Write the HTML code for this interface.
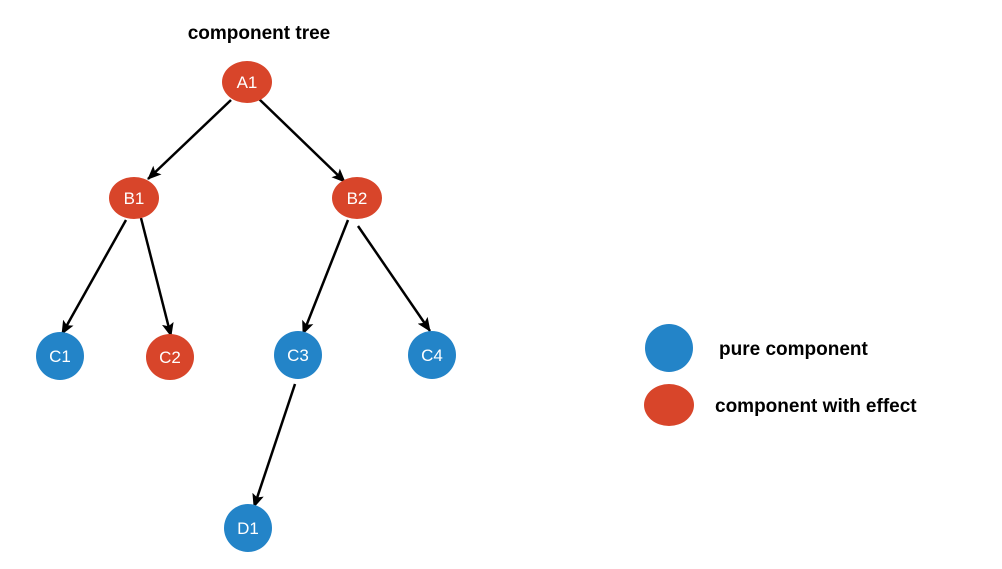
<!DOCTYPE html>
<html><head><style>
body{margin:0;background:#fff;}
svg text{font-family:"Liberation Sans",sans-serif;}
</style></head><body>
<svg width="1002" height="564" xmlns="http://www.w3.org/2000/svg">
<defs><marker id="a" markerWidth="8" markerHeight="8" refX="7" refY="4" orient="auto" markerUnits="userSpaceOnUse" viewBox="0 0 8 8"><path d="M0,0 L8,4 L0,8 z" fill="#000"/></marker>
<marker id="m" markerWidth="14" markerHeight="12" refX="13" refY="6" orient="auto" markerUnits="userSpaceOnUse"><path d="M0,0 L14,6 L0,12 L3,6 z" fill="#000"/></marker></defs>
<text x="259" y="39" font-size="19" font-weight="bold" text-anchor="middle">component tree</text>
<g stroke="#000" stroke-width="2.5" fill="none" marker-end="url(#m)">
<line x1="231" y1="100" x2="148" y2="179"/>
<line x1="258" y1="98" x2="345" y2="182"/>
<line x1="126" y1="220" x2="62" y2="334"/>
<line x1="141" y1="218" x2="171" y2="336"/>
<line x1="348" y1="220" x2="303" y2="334"/>
<line x1="358" y1="226" x2="430" y2="331"/>
<line x1="295" y1="384" x2="254" y2="507"/>
</g>
<g fill="#d8452a">
<ellipse cx="247" cy="82" rx="25" ry="21"/>
<ellipse cx="134" cy="198" rx="25" ry="21"/>
<ellipse cx="357" cy="198" rx="25" ry="21"/>
<ellipse cx="170" cy="357" rx="24" ry="23"/>
<ellipse cx="669" cy="405" rx="25" ry="21"/>
</g>
<g fill="#2384c8">
<circle cx="60" cy="356" r="24"/>
<circle cx="298" cy="355" r="24"/>
<circle cx="432" cy="355" r="24"/>
<circle cx="248" cy="528" r="24"/>
<circle cx="669" cy="348" r="24"/>
</g>
<g fill="#fff" font-size="17" text-anchor="middle">
<text x="247" y="88">A1</text>
<text x="134" y="204">B1</text>
<text x="357" y="204">B2</text>
<text x="60" y="362">C1</text>
<text x="170" y="363">C2</text>
<text x="298" y="361">C3</text>
<text x="432" y="361">C4</text>
<text x="248" y="534">D1</text>
</g>
<text x="719" y="355" font-size="19" font-weight="bold">pure component</text>
<text x="715" y="412" font-size="19" font-weight="bold">component with effect</text>
</svg>
</body></html>
